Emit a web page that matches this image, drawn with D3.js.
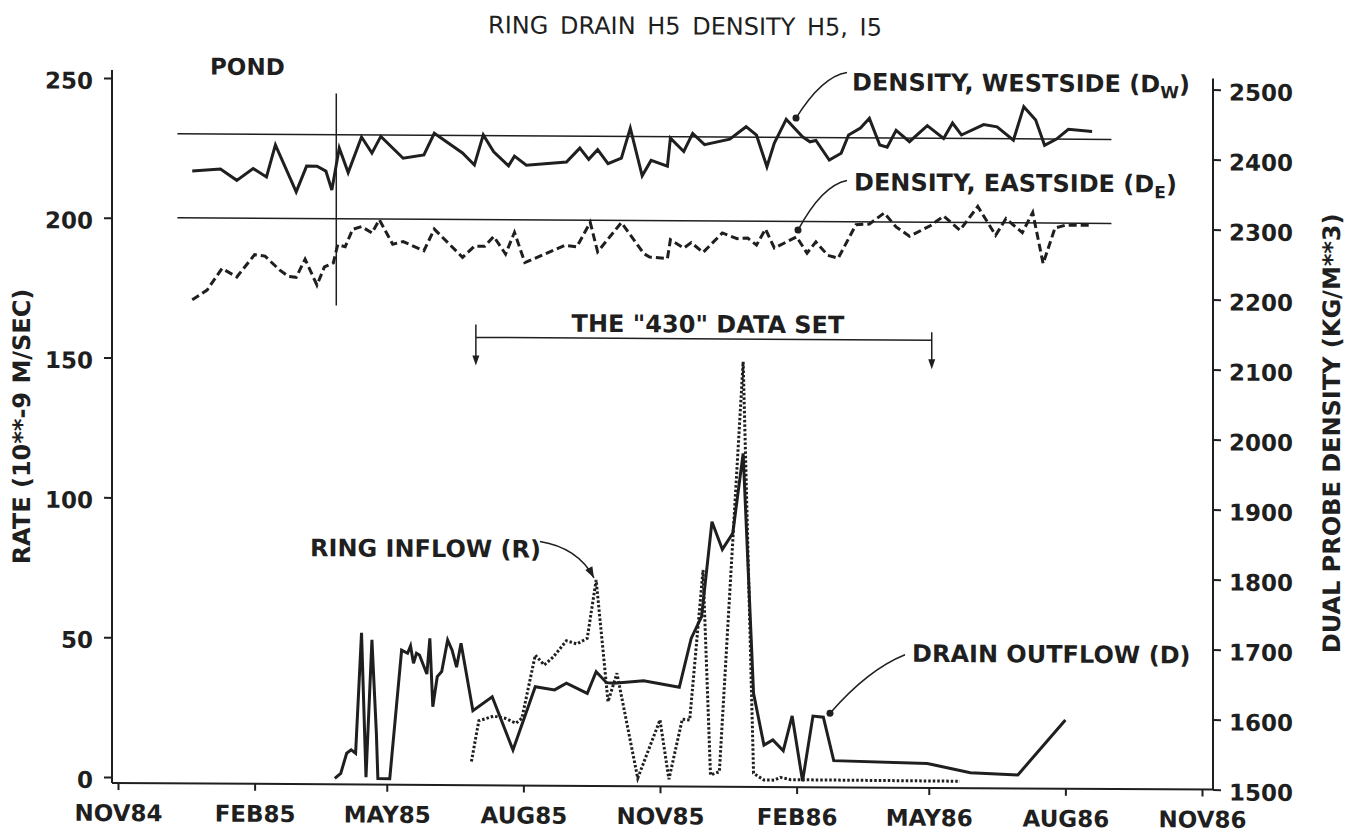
<!DOCTYPE html>
<html>
<head>
<meta charset="utf-8">
<script src="https://cdn.jsdelivr.net/npm/d3@7"></script>
<style>
  body { margin: 0; background: #fff; }
  svg text { font-family: "DejaVu Sans", sans-serif; fill: #1f1f1f; }
  .tick-label { font-size: 23px; font-weight: bold; }
  .note { font-size: 24px; font-weight: bold; }
  .title { font-size: 24px; word-spacing: 4px; }
</style>
</head>
<body>
<div class="canvas"></div>
<script>
// axis ticks
const monthTicks = ['1984-11-01', '1985-02-01', '1985-05-01', '1985-08-01', '1985-11-01',
                    '1986-02-01', '1986-05-01', '1986-08-01', '1986-11-01'];
const monthLabels = ['NOV84', 'FEB85', 'MAY85', 'AUG85', 'NOV85', 'FEB86', 'MAY86', 'AUG86', 'NOV86'];
const rateTicks = [0, 50, 100, 150, 200, 250];
const densityTicks = [1500, 1600, 1700, 1800, 1900, 2000, 2100, 2200, 2300, 2400, 2500];

// dual probe density, kg/m**3
const westside = [
  ['1984-12-21', 2375], ['1985-01-09', 2378], ['1985-01-20', 2362], ['1985-01-31', 2379], ['1985-02-09', 2367],
  ['1985-02-15', 2413], ['1985-03-01', 2346], ['1985-03-08', 2383], ['1985-03-15', 2383], ['1985-03-21', 2376],
  ['1985-03-25', 2349], ['1985-03-30', 2409], ['1985-04-05', 2374], ['1985-04-14', 2425], ['1985-04-21', 2402],
  ['1985-04-27', 2426], ['1985-05-12', 2395], ['1985-05-26', 2400], ['1985-06-02', 2431], ['1985-06-21', 2403],
  ['1985-06-29', 2386], ['1985-07-05', 2429], ['1985-07-12', 2405], ['1985-07-22', 2385], ['1985-07-26', 2399],
  ['1985-08-03', 2386], ['1985-08-30', 2391], ['1985-09-08', 2411], ['1985-09-14', 2395], ['1985-09-20', 2409],
  ['1985-09-27', 2389], ['1985-10-06', 2397], ['1985-10-12', 2440], ['1985-10-20', 2372], ['1985-10-26', 2394],
  ['1985-11-06', 2386], ['1985-11-08', 2426], ['1985-11-17', 2407], ['1985-11-23', 2433], ['1985-12-01', 2417],
  ['1985-12-18', 2425], ['1985-12-29', 2443], ['1986-01-05', 2431], ['1986-01-12', 2386], ['1986-01-17', 2420],
  ['1986-01-25', 2454], ['1986-02-05', 2429], ['1986-02-10', 2422], ['1986-02-14', 2424], ['1986-02-23', 2396],
  ['1986-03-03', 2406], ['1986-03-08', 2432], ['1986-03-16', 2442], ['1986-03-22', 2456], ['1986-03-29', 2418],
  ['1986-04-03', 2415], ['1986-04-09', 2439], ['1986-04-18', 2423], ['1986-04-30', 2446], ['1986-05-11', 2428],
  ['1986-05-17', 2450], ['1986-05-23', 2433], ['1986-06-07', 2448], ['1986-06-16', 2445], ['1986-06-27', 2426],
  ['1986-07-04', 2474], ['1986-07-12', 2455], ['1986-07-18', 2419], ['1986-07-26', 2428], ['1986-08-03', 2442],
  ['1986-08-19', 2439]
];
const eastside = [
  ['1984-12-21', 2191], ['1984-12-31', 2205], ['1985-01-10', 2236], ['1985-01-20', 2224], ['1985-02-01', 2256],
  ['1985-02-08', 2254], ['1985-02-18', 2234], ['1985-02-24', 2225], ['1985-03-01', 2224], ['1985-03-07', 2250],
  ['1985-03-15', 2213], ['1985-03-20', 2239], ['1985-03-26', 2245], ['1985-03-29', 2271], ['1985-04-03', 2268],
  ['1985-04-08', 2293], ['1985-04-14', 2297], ['1985-04-21', 2288], ['1985-04-26', 2307], ['1985-05-05', 2272],
  ['1985-05-12', 2276], ['1985-05-26', 2263], ['1985-06-02', 2294], ['1985-06-21', 2254], ['1985-06-29', 2270],
  ['1985-07-06', 2270], ['1985-07-12', 2284], ['1985-07-20', 2259], ['1985-07-26', 2290], ['1985-08-02', 2247],
  ['1985-08-29', 2272], ['1985-09-06', 2270], ['1985-09-15', 2305], ['1985-09-20', 2263], ['1985-10-06', 2305],
  ['1985-10-21', 2261], ['1985-10-25', 2256], ['1985-11-06', 2254], ['1985-11-08', 2281], ['1985-11-17', 2269],
  ['1985-11-22', 2277], ['1985-11-30', 2263], ['1985-12-13', 2291], ['1985-12-23', 2283], ['1985-12-30', 2284],
  ['1986-01-05', 2274], ['1986-01-11', 2297], ['1986-01-17', 2270], ['1986-02-01', 2286], ['1986-02-08', 2263],
  ['1986-02-14', 2279], ['1986-02-22', 2260], ['1986-03-01', 2256], ['1986-03-13', 2304], ['1986-03-22', 2305],
  ['1986-04-01', 2321], ['1986-04-09', 2301], ['1986-04-18', 2288], ['1986-05-02', 2303], ['1986-05-11', 2317],
  ['1986-05-22', 2297], ['1986-06-03', 2331], ['1986-06-15', 2290], ['1986-06-22', 2314], ['1986-07-03', 2294],
  ['1986-07-10', 2323], ['1986-07-17', 2250], ['1986-07-25', 2301], ['1986-08-01', 2305], ['1986-08-11', 2305],
  ['1986-08-19', 2305]
];
const westsideMean = 2428;
const eastsideMean = 2308;
const meanSpan = ['1984-12-11', '1986-09-01'];
const pondEnd = '1985-03-28';
const pondSpan = [2184, 2487];

// rates, 10**-9 m/sec
const drainOutflow = [
  ['1985-03-27', 0], ['1985-03-31', 1.8], ['1985-04-04', 9.0], ['1985-04-07', 10.2], ['1985-04-10', 9.0],
  ['1985-04-14', 52.1], ['1985-04-17', 0.5], ['1985-04-21', 49.6], ['1985-04-24', 16.2], ['1985-04-25', 0],
  ['1985-05-03', 0], ['1985-05-11', 46.0], ['1985-05-15', 44.9], ['1985-05-17', 47.5], ['1985-05-19', 41.3],
  ['1985-05-21', 44.9], ['1985-05-23', 44.3], ['1985-05-28', 37.5], ['1985-05-30', 50.3], ['1985-06-01', 25.8],
  ['1985-06-04', 36.6], ['1985-06-07', 38.4], ['1985-06-11', 49.7], ['1985-06-14', 46.1], ['1985-06-17', 40.0],
  ['1985-06-20', 48.6], ['1985-06-28', 24.5], ['1985-07-11', 29.5], ['1985-07-25', 10.5], ['1985-08-09', 33.2],
  ['1985-08-22', 32.1], ['1985-08-30', 34.5], ['1985-09-13', 30.9], ['1985-09-19', 38.7], ['1985-09-26', 34.8],
  ['1985-10-01', 34.6], ['1985-10-21', 35.6], ['1985-11-14', 33.3], ['1985-11-22', 50.8], ['1985-11-29', 58.6],
  ['1985-12-06', 92.6], ['1985-12-13', 82.7], ['1985-12-20', 88.5], ['1985-12-27', 117.1], ['1986-01-03', 31.3],
  ['1986-01-10', 12.8], ['1986-01-16', 14.7], ['1986-01-23', 10.8], ['1986-01-29', 23.3], ['1986-02-05', 0],
  ['1986-02-12', 23.3], ['1986-02-19', 22.9], ['1986-02-26', 7.4], ['1986-04-30', 6.6], ['1986-05-29', 3.4],
  ['1986-06-30', 2.7], ['1986-08-01', 22.4]
];
const ringInflow = [
  ['1985-06-27', 6.3], ['1985-07-02', 20.9], ['1985-07-12', 22.6], ['1985-07-20', 21.8], ['1985-07-27', 20.1],
  ['1985-07-31', 21.9], ['1985-08-09', 44.5], ['1985-08-15', 41.0], ['1985-08-21', 43.8], ['1985-08-30', 49.7],
  ['1985-09-06', 48.6], ['1985-09-13', 50.6], ['1985-09-19', 71.5], ['1985-09-27', 28.0], ['1985-10-03', 38.2],
  ['1985-10-17', 0.7], ['1985-11-01', 21.6], ['1985-11-07', 0.4], ['1985-11-16', 21.9], ['1985-11-21', 21.6],
  ['1985-11-30', 75.3], ['1985-12-05', 2.0], ['1985-12-11', 3.2], ['1985-12-27', 149.9], ['1986-01-03', 2.7],
  ['1986-01-10', 0.3], ['1986-01-17', 0.3], ['1986-01-21', 1.3], ['1986-01-28', 0.5], ['1986-05-22', 0.3]
];
const dataSet430 = ['1985-06-30', '1986-05-03'];

const parseDate = d3.timeParse('%Y-%m-%d');
const ink = '#1f1f1f';

const width = 1353, height = 833;
const plotLeft = 112, plotRight = 1213, plotTop = 70, plotBottom = 783;
const skew = 0.006; // the scanned figure runs slightly downhill

const svg = d3.select('.canvas')
  .append('svg')
   .attr('width', width)
   .attr('height', height);

svg.append('rect').attr('width', width).attr('height', height).attr('fill', '#fff');

const chart = svg.append('g')
  .attr('transform', `translate(0, ${-plotLeft * skew}) skewY(${Math.atan(skew) * 180 / Math.PI})`);

const x = d3.scaleTime()
  .domain([parseDate(monthTicks[0]), parseDate(monthTicks[monthTicks.length - 1])])
  .range([118, 1202]);
const yRate = d3.scaleLinear().domain([0, 250]).range([777, 78]);
const yDensity = d3.scaleLinear().domain([1500, 2500]).range([783, 83]);

//axes
const xAxisGroup = chart.append('g').attr('transform', `translate(0, ${plotBottom})`);
const yAxisGroup = chart.append('g').attr('transform', `translate(${plotLeft}, 0)`);
const y2AxisGroup = chart.append('g').attr('transform', `translate(${plotRight}, 0)`);

xAxisGroup.call(d3.axisBottom(x)
  .tickValues(monthTicks.map(parseDate))
  .tickFormat((d, i) => monthLabels[i])
  .tickSize(7));
yAxisGroup.call(d3.axisLeft(yRate).tickValues(rateTicks).tickSize(8).tickPadding(11));
y2AxisGroup.call(d3.axisRight(yDensity).tickValues(densityTicks).tickFormat(d3.format('d')).tickSize(8));

[xAxisGroup, yAxisGroup, y2AxisGroup].forEach(g => {
  g.select('.domain').remove();
  g.selectAll('line').attr('stroke', ink).attr('stroke-width', 2);
  g.selectAll('text').attr('class', 'tick-label');
});
xAxisGroup.selectAll('text').attr('y', 38).attr('dy', 0);
yAxisGroup.selectAll('text').attr('dy', '0.45em');
y2AxisGroup.selectAll('text').attr('text-anchor', 'end').attr('x', 80).attr('dy', '0.45em');

const frame = chart.append('g').attr('stroke', ink).attr('stroke-width', 2);
frame.append('line').attr('x1', plotLeft).attr('x2', plotRight).attr('y1', plotBottom).attr('y2', plotBottom);
frame.append('line').attr('x1', plotLeft).attr('x2', plotLeft).attr('y1', plotTop).attr('y2', plotBottom);
frame.append('line').attr('x1', plotRight).attr('x2', plotRight).attr('y1', plotTop + 2).attr('y2', plotBottom);

//reference lines
const refs = chart.append('g').attr('stroke', ink).attr('stroke-width', 1.5);
[westsideMean, eastsideMean].forEach(v => {
  refs.append('line')
    .attr('x1', x(parseDate(meanSpan[0]))).attr('x2', x(parseDate(meanSpan[1])))
    .attr('y1', yDensity(v)).attr('y2', yDensity(v));
});
refs.append('line')
  .attr('x1', x(parseDate(pondEnd))).attr('x2', x(parseDate(pondEnd)))
  .attr('y1', yDensity(pondSpan[0])).attr('y2', yDensity(pondSpan[1]));

//series
const densityLine = d3.line().x(d => x(parseDate(d[0]))).y(d => yDensity(d[1]));
const rateLine = d3.line().x(d => x(parseDate(d[0]))).y(d => yRate(d[1]));

const series = [
  { data: westside, line: densityLine, dash: null },
  { data: eastside, line: densityLine, dash: '8,4' },
  { data: ringInflow, line: rateLine, dash: '2.5,2' },
  { data: drainOutflow, line: rateLine, dash: null }
];
chart.selectAll('path.series')
  .data(series)
  .enter()
  .append('path')
   .attr('class', 'series')
   .attr('d', s => s.line(s.data))
   .attr('fill', 'none')
   .attr('stroke', ink)
   .attr('stroke-width', 3)
   .attr('stroke-linejoin', 'miter')
   .attr('stroke-dasharray', s => s.dash);

//texts
chart.append('text').attr('class', 'title')
  .attr('x', 685).attr('y', 31).attr('text-anchor', 'middle')
  .text('RING DRAIN H5 DENSITY H5, I5');

chart.append('text').attr('class', 'note').attr('x', 210).attr('y', 74).style('font-size', '23px').text('POND');

function subLabel(tx, ty, main, sub) {
  const t = chart.append('text').attr('class', 'note').attr('x', tx).attr('y', ty);
  t.append('tspan').text(main);
  t.append('tspan').attr('dy', 6).style('font-size', '17px').text(sub);
  t.append('tspan').attr('dy', -6).text(')');
}
subLabel(852, 86, 'DENSITY, WESTSIDE (D', 'W');
subLabel(854, 186, 'DENSITY, EASTSIDE (D', 'E');

chart.append('text').attr('class', 'note').attr('x', 310).attr('y', 555).text('RING INFLOW (R)');
chart.append('text').attr('class', 'note').attr('x', 912).attr('y', 657).text('DRAIN OUTFLOW (D)');
chart.append('text').attr('class', 'note')
  .attr('x', 708).attr('y', 329).attr('text-anchor', 'middle')
  .text('THE "430" DATA SET');

chart.append('text').attr('class', 'note')
  .attr('transform', 'translate(30, 427) rotate(-90)')
  .attr('text-anchor', 'middle')
  .text('RATE (10**-9 M/SEC)');
chart.append('text').attr('class', 'note')
  .attr('transform', 'translate(1340, 426) rotate(-90)')
  .attr('text-anchor', 'middle')
  .text('DUAL PROBE DENSITY (KG/M**3)');

//bracket for the "430" data set
const bracketY = yRate(158);
const bx1 = x(parseDate(dataSet430[0]));
const bx2 = x(parseDate(dataSet430[1]));
const bracket = chart.append('g').attr('stroke', ink).attr('stroke-width', 1.5);
bracket.append('line').attr('x1', bx1).attr('x2', bx2).attr('y1', bracketY).attr('y2', bracketY);
bracket.append('line').attr('x1', bx1).attr('x2', bx1).attr('y1', bracketY - 13).attr('y2', bracketY + 24);
bracket.append('line').attr('x1', bx2).attr('x2', bx2).attr('y1', bracketY - 8).attr('y2', bracketY + 25);
[[bx1, bracketY + 28], [bx2, bracketY + 29]].forEach(([ax, ay]) => {
  chart.append('path')
    .attr('d', `M${ax},${ay} L${ax - 3.5},${ay - 10} L${ax + 3.5},${ay - 10} Z`)
    .attr('fill', ink);
});

//leader lines
function leader(path, end, kind, from) {
  chart.append('path').attr('d', path).attr('fill', 'none').attr('stroke', ink).attr('stroke-width', 1.5);
  if (kind === 'dot') {
    chart.append('circle').attr('cx', end[0]).attr('cy', end[1]).attr('r', 3.5).attr('fill', ink);
  } else {
    const dx = end[0] - from[0], dy = end[1] - from[1];
    const len = Math.hypot(dx, dy);
    const ux = dx / len, uy = dy / len;
    const bx = end[0] - ux * 11, by = end[1] - uy * 11;
    chart.append('path')
      .attr('d', `M${end[0]},${end[1]} L${bx - uy * 4},${by + ux * 4} L${bx + uy * 4},${by - ux * 4} Z`)
      .attr('fill', ink);
  }
}
leader('M847,68 Q822,72 796,114', [796, 114], 'dot');
leader('M847,176 Q822,181 798,226', [798, 226], 'dot');
leader('M540,539 Q578,545 594,575', [594, 575], 'arrow', [578, 545]);
leader('M905,650 Q868,665 830,709', [830, 709], 'dot');
</script>
</body>
</html>
